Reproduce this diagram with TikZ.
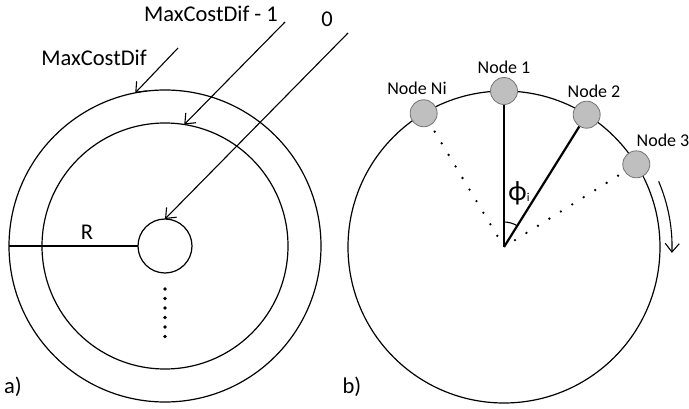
\documentclass[tikz,border=0pt]{standalone}
\usepackage{fontspec}
\setmainfont{Carlito}
\usetikzlibrary{arrows.meta,calc}
\begin{document}
\begin{tikzpicture}[x=1pt,y=1pt,
  ring/.style={circle,draw,line width=1.2pt,inner sep=0pt,outer sep=0pt},
  lbl/.style={font=\fontsize{22.5}{22.5}\selectfont,inner sep=0pt},
  nlbl/.style={font=\fontsize{18}{18}\selectfont,inner sep=0pt},
  pnode/.style={circle,draw=black!55,fill=black!25,line width=0.8pt,minimum size=27pt,inner sep=0pt},
  ptr/.style={line width=1.1pt,-{Straight Barb[length=8.5pt,width=14pt,line width=1.1pt]}},
  spoke/.style={line width=2.2pt},
  dotline/.style={line width=2.6pt,line cap=round,dash pattern=on 0pt off 13.5pt,shorten <=13pt,shorten >=20pt},
  dotm/.style={circle,fill,inner sep=0pt,minimum size=3.6pt}]
\useasboundingbox (0,0) rectangle (689,408);
% ---- a) ----
\node[ring,minimum size=312pt] (outer) at (165,162) {};
\node[ring,minimum size=246pt] (inner) at (165,162) {};
\node[ring,minimum size=54pt] (small) at (165,162) {};
\draw[line width=1.2pt] (outer.west) -- (small.west);
\node[lbl] (R) at (87,176) {R};
\foreach \yy in {119,109.5,100,90.5,81,71.5} \node[dotm] at (165,\yy) {};
\node[lbl] (l1) at (94,350) {MaxCostDif};
\node[lbl] (l2) at (211,394) {MaxCostDif - 1};
\node[lbl] (l3) at (327,389) {0};
\coordinate (s1) at (178,360);
\coordinate (s2) at (285,386);
\coordinate (s3) at (348,375);
\draw[ptr] (s1) -- (outer.101);
\draw[ptr] (s2) -- (inner.81);
\draw[ptr] (s3) -- (small.north);
\node[lbl] (a) at (13,21) {a)};
% ---- b) ----
\coordinate (C) at (504,161);
\node[ring,minimum size=312pt] (big) at (C) {};
\node[pnode] (n1) at ($(C)+(90:156)$) {};
\node[pnode] (n2) at ($(C)+(58:156)$) {};
\node[pnode] (n3) at ($(C)+(32:156)$) {};
\node[pnode] (nN) at ($(C)+(121:156)$) {};
\node[nlbl] at (504,341) {Node 1};
\node[nlbl] at (594,317) {Node 2};
\node[nlbl] at (663,268) {Node 3};
\node[nlbl] at (417,320) {Node Ni};
\draw[spoke] (C) -- (n1);
\draw[spoke] (C) -- (n2);
\draw[dotline] (C) -- (nN.center);
\draw[dotline] (C) -- (n3.center);
\draw[line width=1.1pt] ($(C)+(90:25)$) arc[start angle=90,end angle=58,radius=25];
\node[inner sep=0pt] (phi) at (519,215) {{\fontsize{28}{28}\selectfont ϕ}{\fontsize{12}{12}\selectfont\raisebox{-1pt}{i}}};
\draw[ptr] ($(C)+(23:168)$) arc[start angle=23,end angle=-2,radius=168];
\node[lbl] (b) at (352,21) {b)};
\end{tikzpicture}
\end{document}
